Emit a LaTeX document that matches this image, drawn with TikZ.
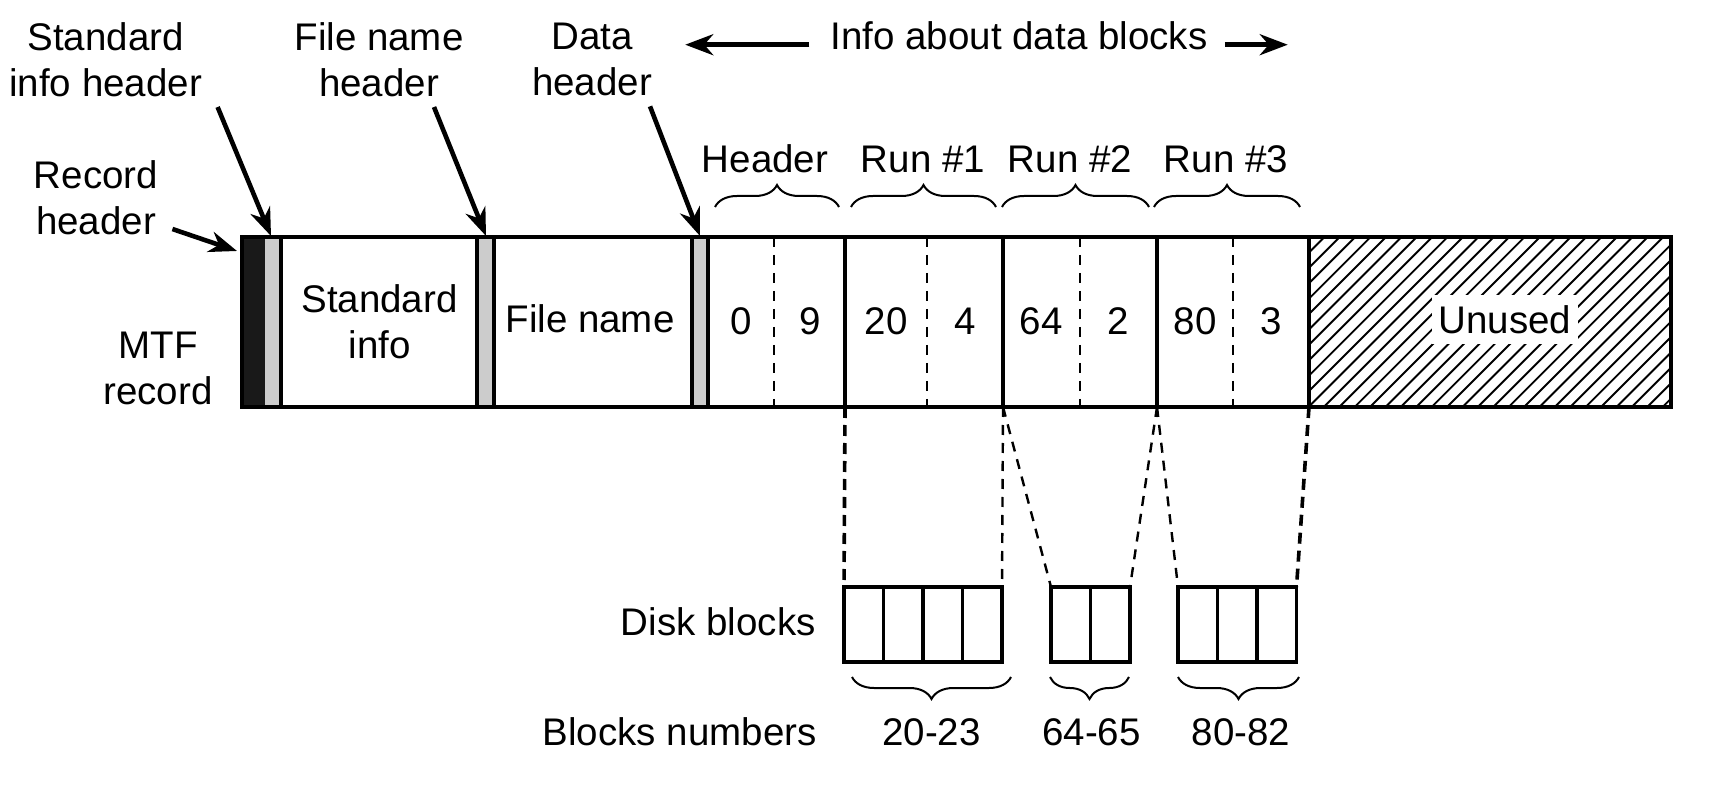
\documentclass[tikz,border=0pt]{standalone}
\usepackage{fontspec}
\setmainfont{Liberation Sans}
\usetikzlibrary{arrows.meta,decorations.pathreplacing}
\newcommand{\lblsize}{\fontsize{19.25pt}{23pt}\selectfont}
\tikzset{
  lbl/.style={font=\lblsize, inner sep=0pt, align=center},
  ptr/.style={line width=2.3pt, -{Stealth[length=14pt,width=10.5pt,inset=4.5pt]}},
  cellline/.style={line width=1.8pt},
  split/.style={line width=1.1pt, dash pattern=on 5pt off 4pt},
  link/.style={line width=1.2pt, dash pattern=on 5pt off 4pt},
  thicklink/.style={line width=1.8pt, dash pattern=on 5.5pt off 3.5pt},
  runbrace/.style={decorate, decoration={brace, amplitude=11pt}, line width=1pt},
  hatch/.style={line width=0.95pt},
  diskcell/.style={line width=1.8pt}
}
\begin{document}
\begin{tikzpicture}[x=0.5pt,y=-0.5pt]
        \useasboundingbox (0,0) rectangle (1728,790);
        % labels above the record
        \node[lbl] (sih) at (105.6,59.5) {Standard\\info header};
        \node[lbl] (fnh) at (379,59.5) {File name\\header};
        \node[lbl] (dh) at (592,59.5) {Data\\header};
        \node[lbl] (rec) at (96,197.5) {Record\\header};
        \node[lbl] (mtf) at (158,368.5) {MTF\\record};
        \node[lbl, anchor=base] (info) at (1019,50) {Info about data blocks};
        \draw[ptr] ([xshift=-10.5pt]info.mid west) -- ++(-124,0);
        \draw[ptr] ([xshift=8.5pt]info.mid east) -- ++(63,0);
        % headers of the record
        \filldraw[fill=black!90, draw=black!90] (242,237) rectangle (265,407);
        \fill[black!20] (265,237) rectangle (281,407);
        \fill[black!20] (477,237) rectangle (494,407);
        \fill[black!20] (692,237) rectangle (708,407);
        \begin{scope}
        \clip (1309,237) rectangle (1671,407);
        \foreach \i in {0,...,35}{%
        \draw[hatch] (1139+\i*15.4,407) -- ++(170,-170);
        }
        \end{scope}
        \foreach \x in {281,477,494,692,708,845,1003,1157,1309}{%
        \draw[cellline] (\x,237) -- (\x,407);
        }
        \foreach \x in {774,927,1080,1233}{%
        \draw[split] (\x,237) -- (\x,407);
        }
        \draw[cellline] (242,237) rectangle (1671,407);
        \coordinate (rhd) at (237,251);
        \coordinate (sihd) at (271,236);
        \coordinate (fnhd) at (486,236);
        \coordinate (dhd) at (700,236);
        \draw[ptr] ([xshift=56pt,yshift=-5pt]sih.south) -- (sihd);
        \draw[ptr] ([xshift=27.5pt,yshift=-5pt]fnh.south) -- (fnhd);
        \draw[ptr] ([xshift=29pt,yshift=-5pt]dh.south) -- (dhd);
        \draw[ptr] ([xshift=7pt,yshift=3pt]rec.south east) -- (rhd);
        % texts in the record
        \node[lbl] (stdinfo) at (379.5,321.5) {Standard\\info};
        \node[lbl] (fname) at (590,319) {File name};
        \foreach \x/\t in {741/0,810/9,886/20,965/4,1041/64,1118/2,1195/80,1271/3}{%
        \node[lbl] (v\x) at (\x,321) {\t};
        }
        \node[lbl, fill=white, inner xsep=3.5pt, inner ysep=5pt] (unused) at (1505,319.5) {Unused};
        % runs
        \node[lbl, anchor=base] (hdr) at (765,173) {Header};
        \node[lbl, anchor=base] (run1) at (923,173) {Run \#1};
        \node[lbl, anchor=base] (run2) at (1070,173) {Run \#2};
        \node[lbl, anchor=base] (run3) at (1226,173) {Run \#3};
        \draw[runbrace] (715,207) -- (839,207);
        \draw[runbrace] (851,207) -- (996,207);
        \draw[runbrace] (1002,207) -- (1149,207);
        \draw[runbrace] (1154,207) -- (1300,207);
        % disk blocks
        \foreach \x/\n in {844/4,1051/2,1178/3}{%
        \foreach \i in {1,...,\n}{%
        \draw[diskcell] (\x+\i*39.5-39.5,587) rectangle ++(39.5,75);
        }
        }
        \coordinate (r0) at (845,407);
        \coordinate (r1) at (1003,407);
        \coordinate (r2) at (1157,407);
        \coordinate (r3) at (1309,407);
        \coordinate (g1l) at (844,587);
        \coordinate (g1r) at (1002,587);
        \coordinate (g2l) at (1051,587);
        \coordinate (g2r) at (1130,587);
        \coordinate (g3l) at (1178,587);
        \coordinate (g3r) at (1296.5,587);
        \draw[thicklink] (r0) -- (g1l);
        \draw[link] (r1) -- (g1r);
        \draw[link] (r1) -- (g2l);
        \draw[link] (r2) -- (g2r);
        \draw[link] (r2) -- (g3l);
        \draw[thicklink] (r3) -- (g3r);
        \draw[runbrace] (1011,677) -- (852,677);
        \draw[runbrace] (1129,677) -- (1050,677);
        \draw[runbrace] (1299,677) -- (1178,677);
        \node[lbl, anchor=base east] (dsk) at (816,635) {Disk blocks};
        \node[lbl, anchor=base east] (bnum) at (817,745) {Blocks numbers};
        \node[lbl, anchor=base] (b1) at (931.5,745) {20-23};
        \node[lbl, anchor=base] (b2) at (1091.5,745) {64-65};
        \node[lbl, anchor=base] (b3) at (1241,745) {80-82};
      \end{tikzpicture}
\end{document}
